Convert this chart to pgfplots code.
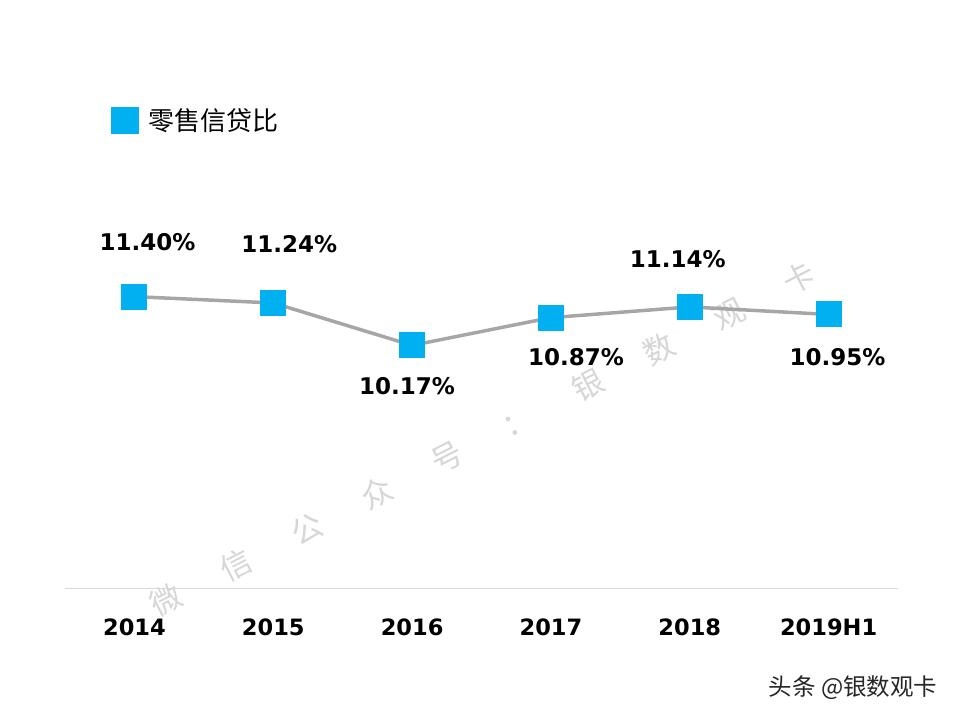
\documentclass[border=0pt]{standalone}
\usepackage{pgfplots}
\pgfplotsset{compat=1.18}
\usepackage{pgfplotstable}
\usepackage{fontspec}
\setmainfont{DejaVu Sans}
\newfontfamily\cjk{Noto Sans CJK SC}
\definecolor{skyb}{HTML}{00B0F0}
\definecolor{lgray}{HTML}{A6A6A6}
\definecolor{axgray}{HTML}{D9D9D9}
\definecolor{wm}{HTML}{D6D6D6}
\pgfplotstableread{
x y dx dy
0 11.40 13 54
1 11.24 16 59
2 10.17 -5 -40.5
3 10.87 25 -39.5
4 11.14 -12 47.5
5 10.95 9 -42.5
}\datatable
\def\ws{\hspace{48bp}}
\begin{document}
\begin{tikzpicture}
\path[use as bounding box] (-65bp,-132bp) rectangle (895bp,588bp);
\node[text=wm, rotate=27, inner sep=0pt, font=\cjk\fontsize{31bp}{31bp}\selectfont] at (417.5bp,149bp)
  {微\ws 信\ws 公\ws 众\ws 号\ws ：\ws 银\ws 数\ws 观\ws 卡};
\begin{axis}[
  at={(0,0)}, anchor=south west,
  scale only axis, width=833bp, height=488bp,
  xmin=-0.5, xmax=5.5, ymin=4.05, ymax=16.36,
  axis x line*=bottom, axis y line=none,
  x axis line style={draw=axgray, line width=0.8bp, -},
  xtick={0,1,2,3,4,5},
  xticklabels={2014,2015,2016,2017,2018,2019H1},
  major tick length=0pt,
  xticklabel style={font=\fontsize{22.5bp}{22.5bp}\selectfont\bfseries, anchor=center, yshift=-39.5bp, text=black},
  clip=false,
  legend style={at={(axis description cs:0.0552,0.958)}, anchor=west, draw=none, fill=none,
    inner sep=0pt, nodes={inner sep=0pt}, column sep=10bp,
    font=\cjk\fontsize{26bp}{26bp}\selectfont},
  legend image code/.code={\fill[skyb] (0bp,-12bp) rectangle (24bp,12bp);},
]
\addplot[color=lgray, line width=3.5bp, mark=square*, mark size=12.5bp,
  mark options={fill=skyb, draw=skyb, line width=0pt},
  visualization depends on={\thisrow{dx}\as\dx},
  visualization depends on={\thisrow{dy}\as\dy},
  point meta=y,
  nodes near coords={\pgfmathprintnumber[fixed,fixed zerofill,precision=2,assume math mode=true]{\pgfplotspointmeta}\%},
  every node near coord/.append style={anchor=center, xshift=\dx bp, yshift=\dy bp, text=black,
    font=\fontsize{23bp}{23bp}\selectfont\bfseries},
] table[x=x, y=y] {\datatable};
\addlegendentry{零售信贷比}
\end{axis}
\node[text=black!85, inner sep=0pt, font=\cjk\fontsize{23.5bp}{23.5bp}\selectfont] at (788bp,-100bp) {头条 @银数观卡};
\end{tikzpicture}
\end{document}
